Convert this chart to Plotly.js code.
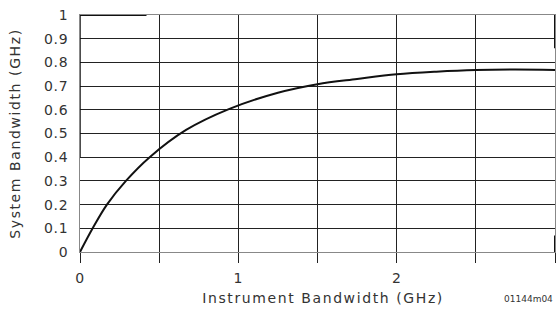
<!DOCTYPE html>
<html><head><meta charset="utf-8">
<script src="https://cdn.plot.ly/plotly-3.0.1.min.js"></script>
<style>
html,body{margin:0;padding:0;background:#fff}
.ytitle,.xlabel{letter-spacing:1.6px}
.xtick text,.ytick text{letter-spacing:0.6px}
</style>
</head><body><div id="chart" style="width:556px;height:312px"></div>
<script>
// Instrument bandwidth (GHz) vs system bandwidth (GHz)
const instrumentBW = [0, 0.08, 0.17, 0.29, 0.44, 0.67,  0.94,  1.25,  1.5,   1.75, 2.0,  2.25,  2.5,   2.75,  3.0];
const systemBW     = [0, 0.1,  0.2,  0.3,  0.4,  0.515, 0.603, 0.672, 0.708, 0.73, 0.75, 0.761, 0.768, 0.770, 0.768];
const xTickVals = [0, 0.5, 1, 1.5, 2, 2.5, 3];
const xTickText = ['0', '', '1', '', '2', '', '3'];
const yTickVals = [0, 0.1, 0.2, 0.3, 0.4, 0.5, 0.6, 0.7, 0.8, 0.9, 1];
const yTickText = ['0', '0.1', '0.2', '0.3', '0.4', '0.5', '0.6', '0.7', '0.8', '0.9', '1'];
const xTitle = 'Instrument Bandwidth (GHz)';
const yTitle = 'System Bandwidth (GHz)';
const figureId = '01144m04';

const font = {family: 'DejaVu Sans, sans-serif', size: 14, color: '#333'};
const edge = {color: '#111', width: 2};

Plotly.newPlot('chart', [{
  x: instrumentBW, y: systemBW, type: 'scatter', mode: 'lines',
  line: {color: '#111', width: 2, shape: 'spline', smoothing: 1},
  hoverinfo: 'skip'
}], {
  width: 556, height: 312,
  margin: {l: 80, r: 1, t: 15, b: 60, pad: 0},
  paper_bgcolor: '#fff', plot_bgcolor: '#fff',
  showlegend: false,
  font: font,
  xaxis: {
    range: [0, 3], tickmode: 'array', tickvals: xTickVals, ticktext: xTickText,
    showgrid: true, gridcolor: '#222', gridwidth: 1,
    ticks: 'outside', ticklen: 10, tickcolor: '#222', tickwidth: 1,
    showline: true, linecolor: '#888', linewidth: 1, mirror: true,
    zeroline: false, tickfont: font, ticklabelstandoff: 3
  },
  yaxis: {
    range: [0, 1], tickmode: 'array', tickvals: yTickVals, ticktext: yTickText,
    showgrid: true, gridcolor: '#222', gridwidth: 1,
    ticks: '', showline: true, linecolor: '#888', linewidth: 1, mirror: true,
    zeroline: false, tickfont: font, ticklabelstandoff: 8,
    title: {text: yTitle, font: font, standoff: 20}
  },
  shapes: [
    {type: 'line', xref: 'x', yref: 'y', x0: 0, x1: 0.42, y0: 1, y1: 1, line: edge},
    {type: 'line', xref: 'x', yref: 'y', x0: 0, x1: 0, y0: 0.4, y1: 1, line: {color: '#111', width: 1.5}},
    {type: 'line', xref: 'x', yref: 'y', x0: 3, x1: 3, y0: 0.86, y1: 1, line: edge},
    {type: 'line', xref: 'x', yref: 'y', x0: 3, x1: 3, y0: 0, y1: 0.07, line: edge}
  ],
  annotations: [{
    text: xTitle, xref: 'paper', yref: 'paper', x: 0.512, y: 0,
    xanchor: 'center', yanchor: 'top', yshift: -36, showarrow: false,
    font: font, captureevents: false
  }, {
    text: figureId, xref: 'paper', yref: 'paper', x: 1, y: 0,
    xanchor: 'right', yanchor: 'top', yshift: -40, showarrow: false,
    font: {family: 'DejaVu Sans, sans-serif', size: 9, color: '#333'}
  }]
}, {staticPlot: true}).then(function (gd) {
  var a = gd.querySelectorAll('.annotation-text');
  if (a.length) a[0].classList.add('xlabel');
});
</script></body></html>
